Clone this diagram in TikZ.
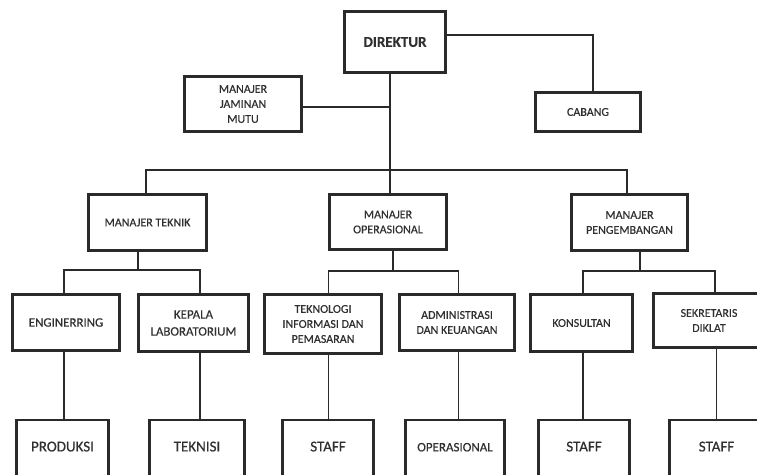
\documentclass[tikz,border=0pt]{standalone}
\usepackage{fontspec}
\setmainfont{Carlito}[FakeBold=0.35]
\newfontfamily\semib{Carlito}[FakeBold=0.5]
\definecolor{linec}{HTML}{2A2A2A}
\definecolor{textc}{HTML}{303030}
\tikzset{
  box/.style={draw=linec, line width=2.8pt, align=center, inner sep=0pt, text=textc,
    font=\fontsize{12}{15}\selectfont},
  bigtext/.style={font=\fontsize{12.9}{17}\selectfont},
  lowbox/.style={box, anchor=north, text height=10.5pt, text depth=30pt, inner ysep=21pt,
    font=\semib\fontsize{15}{18}\selectfont},
  conn/.style={draw=linec, line width=1.6pt}
}
\begin{document}
\begin{tikzpicture}[x=1pt,y=-1pt]
\useasboundingbox (0,0) rectangle (757,474);
\clip (0,0) rectangle (757,474);
\fill[white] (0,0) rectangle (757,474);
% top level
\node[box, minimum width=101, minimum height=61, font=\fontsize{15}{18}\selectfont\bfseries] (dir) at (395,42) {DIREKTUR};
\node[box, minimum width=117, minimum height=55] (mjm) at (243,104) {MANAJER\\JAMINAN\\MUTU};
\node[box, minimum width=105, minimum height=39] (cab) at (588,112) {CABANG};
% managers
\node[box, minimum width=118, minimum height=56] (mt) at (147.5,222.5) {MANAJER TEKNIK};
\node[box, minimum width=117, minimum height=55] (mo) at (388,222) {MANAJER\\OPERASIONAL};
\node[box, minimum width=116, minimum height=56] (mp) at (629.5,222.5) {MANAJER\\PENGEMBANGAN};
% third level
\node[box, bigtext, minimum width=107, minimum height=56] (eng) at (66,322.5) {ENGINERRING};
\node[box, bigtext, minimum width=110, minimum height=57] (kl) at (193.5,323) {KEPALA\\LABORATORIUM};
\node[box, minimum width=117, minimum height=59] (tip) at (323,324) {TEKNOLOGI\\INFORMASI DAN\\PEMASARAN};
\node[box, minimum width=115, minimum height=56] (adm) at (457,322.5) {ADMINISTRASI\\DAN KEUANGAN};
\node[box, minimum width=102, minimum height=57] (kon) at (581.5,323) {KONSULTAN};
\node[box, minimum width=111, minimum height=54] (sek) at (709,320.5) {SEKRETARIS\\DIKLAT};
% bottom level
\node[lowbox, minimum width=92] (pro) at (62.5,418.5) {PRODUKSI};
\node[lowbox, minimum width=95] (tek) at (197,418.5) {TEKNISI};
\node[lowbox, minimum width=91] (st1) at (328,418.5) {STAFF};
\node[lowbox, minimum width=99, font=\semib\fontsize{13}{16}\selectfont] (ops) at (455,418.5) {OPERASIONAL};
\node[lowbox, minimum width=91] (st2) at (584,418.5) {STAFF};
\node[lowbox, minimum width=94] (st3) at (716.5,418.5) {STAFF};
% junction coordinates
\coordinate (trunk) at (390,170);
\coordinate (mjmj) at (390,107);
\coordinate (cabj) at (593,35);
\coordinate (busl) at (146,170);
\coordinate (busr) at (627,170);
\coordinate (mtj) at (138,270);
\coordinate (engj) at (64,270);
\coordinate (klj) at (200,270);
\coordinate (moj) at (393,271);
\coordinate (tipj) at (328.5,271);
\coordinate (admj) at (458.5,271);
\coordinate (mpj) at (640,271);
\coordinate (konj) at (583,271);
\coordinate (sekj) at (715,271);
% connectors
\draw[conn] (dir.south -| trunk) -- (mo.north -| trunk);
\draw[conn] (mjm.east |- mjmj) -- (mjmj);
\draw[conn] (dir.east |- cabj) -- (cabj) -- (cab.north -| cabj);
\draw[conn] (mt.north -| busl) -- (busl) -- (busr) -- (mp.north -| busr);
\draw[conn] (mt.south -| mtj) -- (mtj);
\draw[conn] (eng.north -| engj) -- (engj) -- (klj) -- (kl.north -| klj);
\draw[conn] (mo.south -| moj) -- (moj);
\draw[conn] (tip.north -| tipj) -- (tipj) -- (admj) -- (adm.north -| admj);
\draw[conn] (mp.south -| mpj) -- (mpj);
\draw[conn] (kon.north -| konj) -- (konj) -- (sekj) -- (sek.north -| sekj);
\draw[conn] (eng.south -| engj) -- (pro.north -| engj);
\draw[conn] (kl.south -| klj) -- (tek.north -| klj);
\draw[conn] (tip.south -| tipj) -- (st1.north -| tipj);
\draw[conn] (adm.south -| admj) -- (ops.north -| admj);
\draw[conn] (kon.south -| konj) -- (st2.north -| konj);
\draw[conn] (sek.south -| st3.north) -- (st3.north);
\end{tikzpicture}
\end{document}
